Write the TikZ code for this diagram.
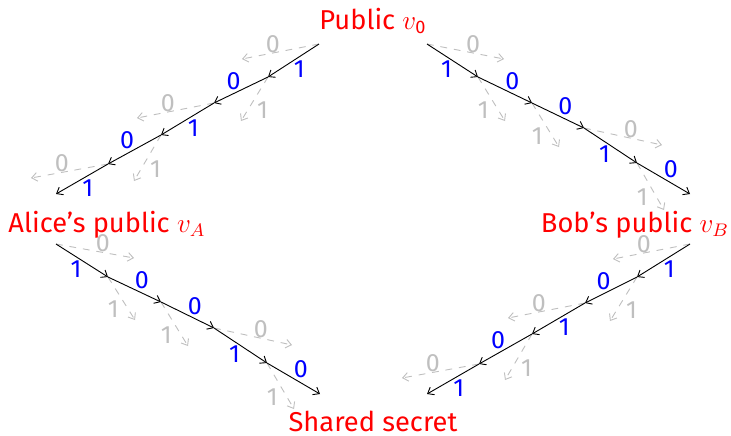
\documentclass[tikz,border=0pt]{standalone}
\usepackage{fontspec}
\setmainfont{Fira Sans}
\usetikzlibrary{positioning, arrows.meta}

\begin{document}
\begin{tikzpicture}[
    x=0.44pt, y=-0.44pt,
    >={Straight Barb[length=2.4pt, width=3.8pt]},
    every node/.style={font=\fontsize{11}{13}\selectfont},
    party/.style={
        text=red,
        anchor=base,
        inner sep=0pt,
        font=\fontsize{12}{14}\selectfont
    },
    taken/.style={->},
    other/.style={->, dashed, black!25},
    bit/.style={text=blue, inner sep=0pt, auto},
    offzero/.style={text=black!25, inner sep=0pt, pos=0.6, above},
    offone/.style={text=black!25, inner sep=1pt, auto}
]
\useasboundingbox (0,0) rectangle (731,435);

% Nodes
\node (v0) [party] at (373,29) {Public $v_{\mathrm{0}}$};
\node (vA) [party] at (107,232) {Alice’s public $v_A$};
\node (vB) [party] at (635,232) {Bob’s public $v_B$};
\node (shared) [party] at (373,431) {Shared secret};

% Alice's walk from v0
\coordinate (a0) at (319,44);
\coordinate (a1) at (268,77);
\coordinate (a2) at (214,103);
\coordinate (a3) at (161,135);
\coordinate (a4) at (108,164);
\coordinate (a5) at (56,194);
\path (a0) ++(-77,15) coordinate (ga0);
\path (a1) ++(-27,44) coordinate (ga1);
\path (a2) ++(-77,15) coordinate (ga2);
\path (a3) ++(-27,46) coordinate (ga3);
\path (a4) ++(-77,14) coordinate (ga4);

% Bob's walk from v0
\coordinate (b0) at (427,44);
\coordinate (b1) at (478,77);
\coordinate (b2) at (532,103);
\coordinate (b3) at (584,128);
\coordinate (b4) at (637,163);
\coordinate (b5) at (690,194);
\path (b0) ++(77,15) coordinate (gb0);
\path (b1) ++(27,44) coordinate (gb1);
\path (b2) ++(27,44) coordinate (gb2);
\path (b3) ++(78,17) coordinate (gb3);
\path (b4) ++(27,47) coordinate (gb4);

% Alice's walk from vB
\coordinate (c0) at (690,244);
\coordinate (c1) at (637,277);
\coordinate (c2) at (585,303);
\coordinate (c3) at (532,334);
\coordinate (c4) at (479,364);
\coordinate (c5) at (427,394);
\path (c0) ++(-77,15) coordinate (gc0);
\path (c1) ++(-27,44) coordinate (gc1);
\path (c2) ++(-77,15) coordinate (gc2);
\path (c3) ++(-27,46) coordinate (gc3);
\path (c4) ++(-77,14) coordinate (gc4);

% Bob's walk from vA
\coordinate (d0) at (56,244);
\coordinate (d1) at (108,277);
\coordinate (d2) at (161,302);
\coordinate (d3) at (214,328);
\coordinate (d4) at (267,363);
\coordinate (d5) at (320,394);
\path (d0) ++(78,14) coordinate (gd0);
\path (d1) ++(27,43) coordinate (gd1);
\path (d2) ++(27,44) coordinate (gd2);
\path (d3) ++(78,17) coordinate (gd3);
\path (d4) ++(27,46) coordinate (gd4);

% Unused edges
\draw [other] (a0) -- node[offzero] {0} (ga0);
\draw [other] (a1) -- node[offone] {1} (ga1);
\draw [other] (a2) -- node[offzero] {0} (ga2);
\draw [other] (a3) -- node[offone] {1} (ga3);
\draw [other] (a4) -- node[offzero] {0} (ga4);

\draw [other] (b0) -- node[offzero] {0} (gb0);
\draw [other] (b1) -- node[offone, swap] {1} (gb1);
\draw [other] (b2) -- node[offone, swap] {1} (gb2);
\draw [other] (b3) -- node[offzero] {0} (gb3);
\draw [other] (b4) -- node[offone, swap] {1} (gb4);

\draw [other] (c0) -- node[offzero] {0} (gc0);
\draw [other] (c1) -- node[offone] {1} (gc1);
\draw [other] (c2) -- node[offzero] {0} (gc2);
\draw [other] (c3) -- node[offone] {1} (gc3);
\draw [other] (c4) -- node[offzero] {0} (gc4);

\draw [other] (d0) -- node[offzero] {0} (gd0);
\draw [other] (d1) -- node[offone, swap] {1} (gd1);
\draw [other] (d2) -- node[offone, swap] {1} (gd2);
\draw [other] (d3) -- node[offzero] {0} (gd3);
\draw [other] (d4) -- node[offone, swap] {1} (gd4);

% Walks
\draw [taken] (a0) -- node[bit] {1} (a1);
\draw [taken] (a1) -- node[bit, swap] {0} (a2);
\draw [taken] (a2) -- node[bit] {1} (a3);
\draw [taken] (a3) -- node[bit, swap] {0} (a4);
\draw [taken] (a4) -- node[bit] {1} (a5);

\draw [taken] (b0) -- node[bit, swap] {1} (b1);
\draw [taken] (b1) -- node[bit] {0} (b2);
\draw [taken] (b2) -- node[bit] {0} (b3);
\draw [taken] (b3) -- node[bit, swap] {1} (b4);
\draw [taken] (b4) -- node[bit] {0} (b5);

\draw [taken] (c0) -- node[bit] {1} (c1);
\draw [taken] (c1) -- node[bit, swap] {0} (c2);
\draw [taken] (c2) -- node[bit] {1} (c3);
\draw [taken] (c3) -- node[bit, swap] {0} (c4);
\draw [taken] (c4) -- node[bit] {1} (c5);

\draw [taken] (d0) -- node[bit, swap] {1} (d1);
\draw [taken] (d1) -- node[bit] {0} (d2);
\draw [taken] (d2) -- node[bit] {0} (d3);
\draw [taken] (d3) -- node[bit, swap] {1} (d4);
\draw [taken] (d4) -- node[bit] {0} (d5);

\end{tikzpicture}
\end{document}
